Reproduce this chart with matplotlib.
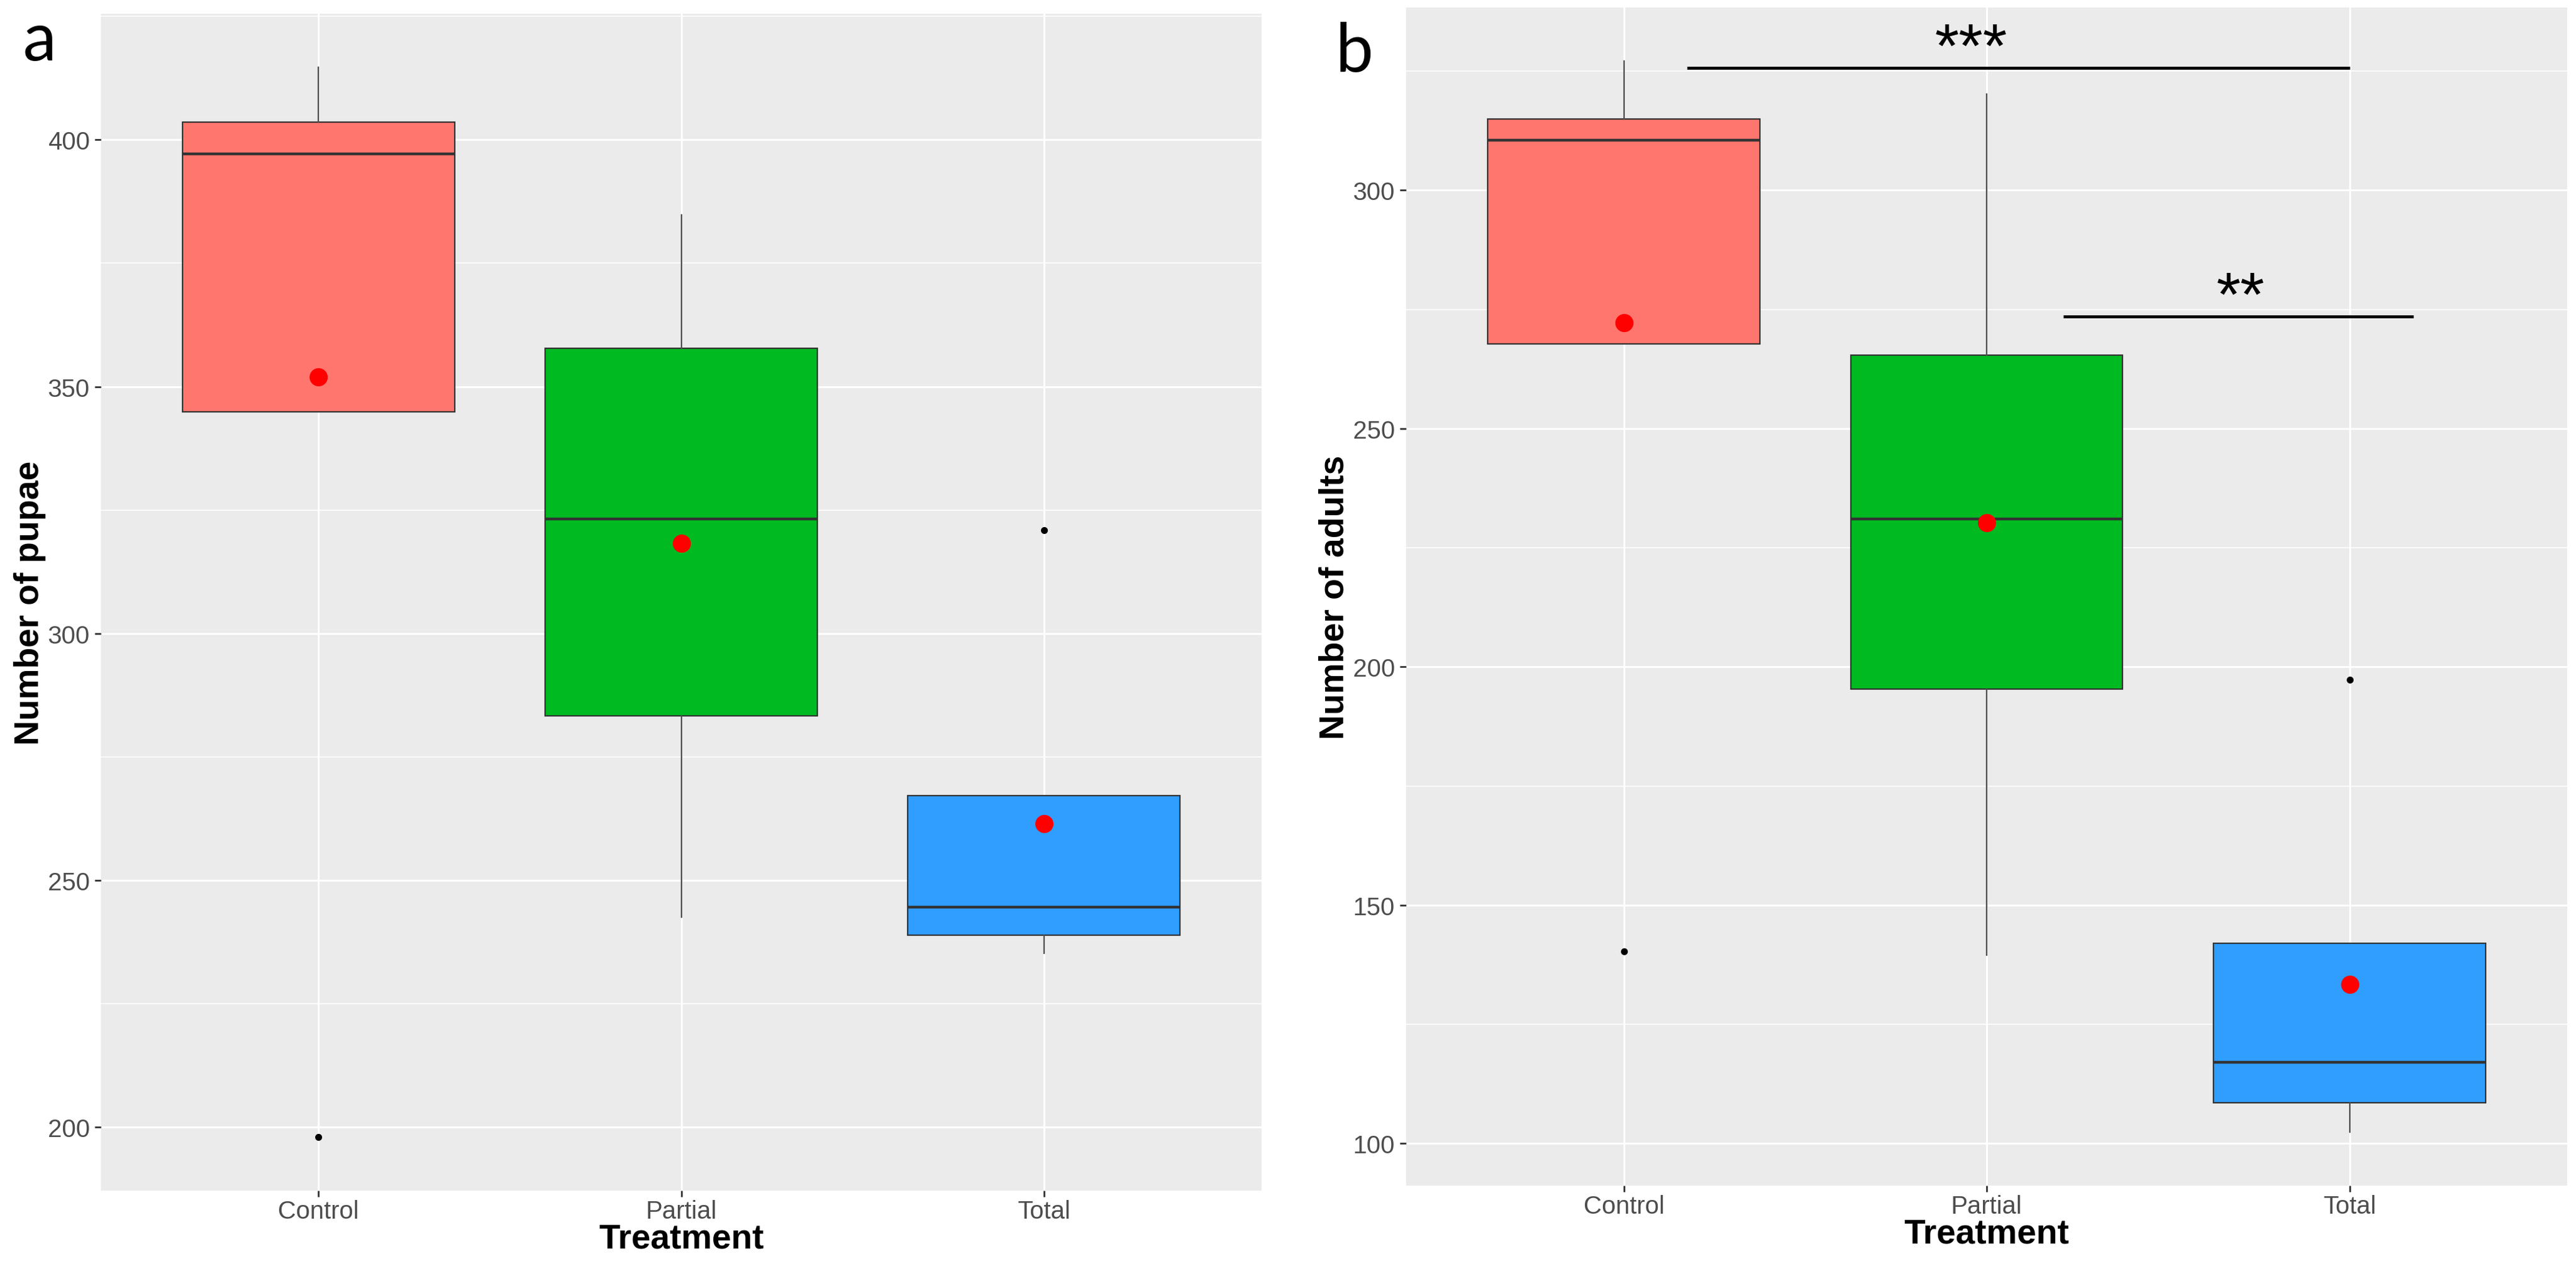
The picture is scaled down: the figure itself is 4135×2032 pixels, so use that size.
import matplotlib
matplotlib.use("Agg")
import matplotlib.pyplot as plt

plt.rcParams['font.family'] = ['Liberation Sans', 'DejaVu Sans']

treatments = ["Control", "Partial", "Total"]
box_colors = ["#FF766E", "#00BA21", "#2F9EFF"]

# panel a: number of pupae (box stats)
pupae_q1 = [344.9, 283.3, 238.9]
pupae_med = [397.1, 323.2, 244.6]
pupae_q3 = [403.6, 357.8, 267.2]
pupae_lo = [344.9, 242.6, 235.3]
pupae_hi = [414.7, 384.8, 267.2]
pupae_mean = [352.0, 318.3, 261.5]
pupae_out = [[198.0], [], [320.9]]

# panel b: number of adults
adult_q1 = [267.8, 195.4, 108.5]
adult_med = [310.5, 231.0, 117.1]
adult_q3 = [314.9, 265.4, 142.0]
adult_lo = [267.8, 139.5, 102.4]
adult_hi = [327.1, 320.2, 142.0]
adult_mean = [272.2, 230.3, 133.4]
adult_out = [[140.3], [], [197.3]]

pupae_ticks = [200, 250, 300, 350, 400]
adult_ticks = [100, 150, 200, 250, 300]

# significance bars on panel b: (x start, x end, y of bar, label x, label centre y, label)
sig_marks = [(1.174, 3.0, 325.7, 1.957, 331.7, "***"),
             (2.211, 3.176, 273.5, 2.70, 279.5, "**")]

W, H = 4135, 2033
fig = plt.figure(figsize=(W / 100, H / 100), dpi=100)


def draw_panel(ax, q1, med, q3, lo, hi, mean, out, ticks, ylabel):
    stats = []
    for i in range(3):
        stats.append(dict(med=med[i], q1=q1[i], q3=q3[i], whislo=lo[i],
                          whishi=hi[i], fliers=out[i], mean=mean[i]))
    ax.set_facecolor("#EBEBEB")

    # y range like ggplot: data range expanded by 5% each side
    allv = lo + hi + [v for o in out for v in o]
    vmin, vmax = min(allv), max(allv)
    pad = (vmax - vmin) * 0.05
    ylo, yhi = vmin - pad, vmax + pad

    # ggplot-like grid
    step = ticks[1] - ticks[0]
    for t in ticks:
        ax.axhline(t, color="white", lw=2.2, zorder=0)
    for t in [ticks[0] - step / 2] + [t + step / 2 for t in ticks]:
        if ylo < t < yhi:
            ax.axhline(t, color="white", lw=1.1, zorder=0)
    for x in range(1, 4):
        ax.axvline(x, color="white", lw=2.2, zorder=0)

    bp = ax.bxp(stats, positions=[1, 2, 3], widths=0.75, patch_artist=True,
                showcaps=False, showmeans=True,
                boxprops=dict(edgecolor="#333333", lw=1.6),
                whiskerprops=dict(color="#4D4D4D", lw=1.7),
                medianprops=dict(color="#333333", lw=3.2),
                flierprops=dict(marker="o", markersize=7, markerfacecolor="black",
                                markeredgecolor="black"),
                meanprops=dict(marker="o", markersize=20, markerfacecolor="red",
                               markeredgecolor="red"),
                zorder=2)
    for patch, c in zip(bp["boxes"], box_colors):
        patch.set_facecolor(c)

    ax.set_ylim(ylo, yhi)
    ax.set_xlim(0.4, 3.6)
    ax.set_xticks([1, 2, 3])
    ax.set_xticklabels(treatments)
    ax.set_yticks(ticks)
    ax.tick_params(axis="both", colors="#333333", length=7, width=2,
                   labelsize=29, labelcolor="#4D4D4D")
    ax.tick_params(axis="x", pad=3)
    ax.tick_params(axis="y", pad=6)
    for s in ax.spines.values():
        s.set_visible(False)
    ax.set_xlabel("Treatment", fontsize=40, fontweight="bold", labelpad=0)
    ax.set_ylabel(ylabel, fontsize=40, fontweight="bold", labelpad=2)


ax_a = fig.add_axes([162 / W, 1 - 1912 / H, (2025 - 162) / W, (1912 - 23) / H])
draw_panel(ax_a, pupae_q1, pupae_med, pupae_q3, pupae_lo, pupae_hi, pupae_mean,
           pupae_out, pupae_ticks, "Number of pupae")

ax_b = fig.add_axes([2257 / W, 1 - 1904 / H, (4121 - 2257) / W, (1904 - 13) / H])
draw_panel(ax_b, adult_q1, adult_med, adult_q3, adult_lo, adult_hi, adult_mean,
           adult_out, adult_ticks, "Number of adults")

for x0, x1, y, tx, ty, lab in sig_marks:
    ax_b.plot([x0, x1], [y, y], color="black", lw=3.4, zorder=3, solid_capstyle="butt")
    # asterisk ink sits well above the baseline
    ax_b.text(tx, ty - 5.7, lab, fontsize=72, ha="center", va="baseline", zorder=3)

fig.text(37 / W, 1 - 97 / H, "a", fontsize=78, family=["Lato", "DejaVu Sans"])
fig.text(2143 / W, 1 - 115 / H, "b", fontsize=78, family=["Lato", "DejaVu Sans"])

fig.savefig("out.png", dpi=100, facecolor="white")
